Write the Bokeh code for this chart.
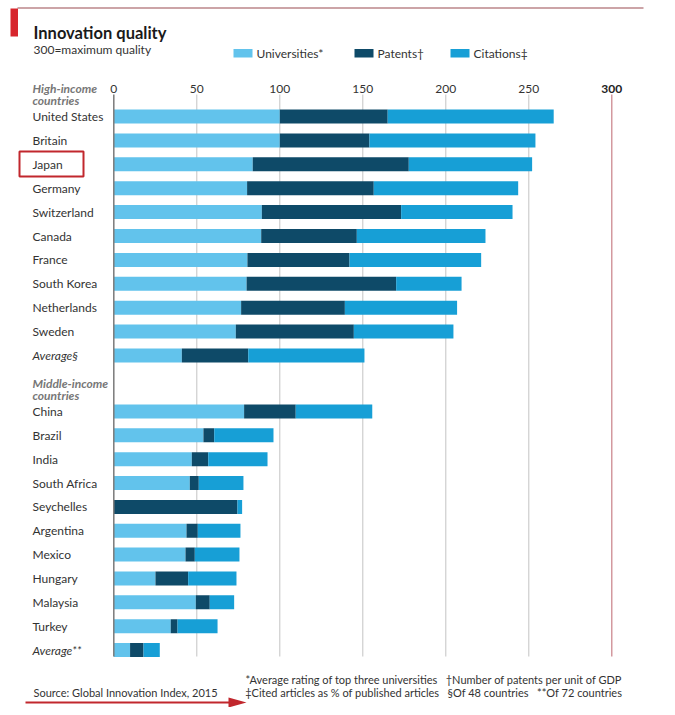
from bokeh.plotting import figure
from bokeh.models import Range1d, ColumnDataSource
from bokeh.core.properties import value
from bokeh.embed import file_html
from bokeh.resources import INLINE

# ---------------- data ----------------
high_countries = ["United States", "Britain", "Japan", "Germany", "Switzerland", "Canada",
                  "France", "South Korea", "Netherlands", "Sweden", "Average§"]
high_universities = [100, 100, 83.7, 80.3, 89.2, 88.8, 80.5, 80.0, 76.7, 73.5, 41.0]
high_patents = [65, 54, 94.0, 76.3, 83.9, 57.6, 61.5, 90.1, 62.5, 71.1, 40.0]
high_citations = [100, 100, 74.3, 87.0, 67.1, 77.5, 79.3, 39.4, 67.6, 60.0, 70.0]

mid_countries = ["China", "Brazil", "India", "South Africa", "Seychelles", "Argentina",
                 "Mexico", "Hungary", "Malaysia", "Turkey", "Average**"]
mid_universities = [78.5, 54.0, 47.0, 45.8, 0.0, 43.8, 43.2, 25.1, 49.4, 34.3, 9.8]
mid_patents = [31.1, 6.5, 9.9, 5.4, 74.5, 6.8, 5.6, 19.7, 8.4, 4.1, 8.1]
mid_citations = [46.1, 35.7, 35.7, 26.9, 2.8, 25.7, 26.9, 29.1, 14.7, 24.1, 9.8]

tick_values = [0, 50, 100, 150, 200, 250, 300]
tick_labels = ["0", "50", "100", "150", "200", "250", "300"]

series = ["Universities*", "Patents†", "Citations‡"]
colors = ["#62c3ec", "#0e4a68", "#179fd6"]

# ---------------- layout helpers ----------------
X0, SCALE = 113.3, 1.66          # screen x of value 0, pixels per unit
W, H = 667, 707


def X(px):
    return (px - X0) / SCALE


FONT = value("Lato")
TXT = "#333333"
SP = "\u00a0\u00a0\u00a0"

high_y = [116 + 23.9 * i for i in range(len(high_countries))]
mid_y = [411 + 23.85 * i for i in range(len(mid_countries))]

p = figure(width=W, height=H,
           x_range=Range1d(X(0), X(W)), y_range=Range1d(H, 0),
           output_backend="svg", toolbar_location=None, min_border=0,
           x_axis_location=None, y_axis_location=None)
p.grid.visible = False
p.outline_line_color = None
p.background_fill_color = "white"

# grid lines
grid_x = [v for v in tick_values if v not in (0, 300)]
p.segment(x0=grid_x, y0=[94] * len(grid_x), x1=grid_x, y1=[656] * len(grid_x),
          line_color="#c4c4c4", line_width=1)
p.segment(x0=[300], y0=[94], x1=[300], y1=[656], line_color="#c98088", line_width=1.2)

# bars
src_high = ColumnDataSource(dict(y=high_y, u=high_universities, pt=high_patents, c=high_citations))
src_mid = ColumnDataSource(dict(y=mid_y, u=mid_universities, pt=mid_patents, c=mid_citations))
for src in (src_high, src_mid):
    p.hbar_stack(["u", "pt", "c"], y="y", height=14, color=colors, line_color=None, source=src)

# zero axis line
p.segment(x0=[0], y0=[94], x1=[0], y1=[656], line_color="#7a7a7a", line_width=1.5)

# tick labels
p.text(x=tick_values[:-1], y=[88] * 6, text=tick_labels[:-1], text_align="center",
       text_baseline="middle", text_font=FONT, text_font_size="12px", text_color=TXT)
p.text(x=[300], y=[88], text=["300"], text_align="center", text_baseline="middle",
       text_font=FONT, text_font_size="12px", text_color="#222222", text_font_style="bold")

# country labels
normal_high = [c for c in high_countries if not c.startswith("Average")]
p.text(x=[X(32)] * len(normal_high), y=high_y[:len(normal_high)], text=normal_high,
       text_baseline="middle", text_font=FONT, text_font_size="12px", text_color=TXT)
normal_mid = [c for c in mid_countries if not c.startswith("Average")]
p.text(x=[X(32)] * len(normal_mid), y=mid_y[:len(normal_mid)], text=normal_mid,
       text_baseline="middle", text_font=FONT, text_font_size="12px", text_color=TXT)
p.text(x=[X(32), X(32)], y=[high_y[-1], mid_y[-1]], text=[high_countries[-1], mid_countries[-1]],
       text_baseline="middle", text_font=FONT, text_font_size="12px", text_color=TXT,
       text_font_style="italic")

# group headers
p.text(x=[X(32)] * 4, y=[88, 100, 383, 395],
       text=["High-income", "countries", "Middle-income", "countries"],
       text_baseline="middle", text_font=FONT, text_font_size="12px",
       text_color="#777777", text_font_style="bold italic")

# Japan highlight box
p.quad(left=[X(19)], right=[X(83)], top=[151], bottom=[176], fill_color=None,
       line_color="#c1272d", line_width=2)

# title block
p.segment(x0=[X(17)], y0=[7.5], x1=[X(643)], y1=[7.5], line_color="#9a4a50", line_width=1.2)
p.quad(left=[X(10)], right=[X(17.5)], top=[8], bottom=[36], fill_color="#d7262d", line_color=None)
p.text(x=[X(33)], y=[32], text=["Innovation quality"], text_baseline="middle",
       text_font=FONT, text_font_size="16.5px", text_font_style="bold", text_color="#1a1a1a")
p.text(x=[X(33)], y=[49], text=["300=maximum quality"], text_baseline="middle",
       text_font=FONT, text_font_size="12px", text_color=TXT)

# legend
sw_left = [233, 354, 450]
for lx, col, lab in zip(sw_left, colors, series):
    p.quad(left=[X(lx)], right=[X(lx + 19)], top=[48.5], bottom=[57], fill_color=col, line_color=None)
    p.text(x=[X(lx + 23)], y=[53], text=[lab], text_baseline="middle", text_font=FONT,
           text_font_size="12px", text_color=TXT)

# footnotes
p.text(x=[X(622)] * 2, y=[679, 692],
       text=["*Average rating of top three universities" + SP + "†Number of patents per unit of GDP",
             "‡Cited articles as % of published articles" + SP + "§Of 48 countries" + SP
             + "**Of 72 countries"],
       text_align="right", text_baseline="middle", text_font=FONT,
       text_font_size="11px", text_color=TXT)
p.text(x=[X(33)], y=[692], text=["Source: Global Innovation Index, 2015"], text_baseline="middle",
       text_font=FONT, text_font_size="11px", text_color=TXT)

# red arrow
p.line(x=[X(25), X(232)], y=[702, 702], line_color="#c1272d", line_width=2.2)
p.patch(x=[X(228), X(246), X(228)], y=[697, 702, 707], fill_color="#c1272d", line_color=None)

# frame edges
p.segment(x0=[X(670)], y0=[0], x1=[X(670)], y1=[710], line_color="#bdbdbd", line_width=1.5)

open("out.html", "w").write(file_html(p, INLINE))
